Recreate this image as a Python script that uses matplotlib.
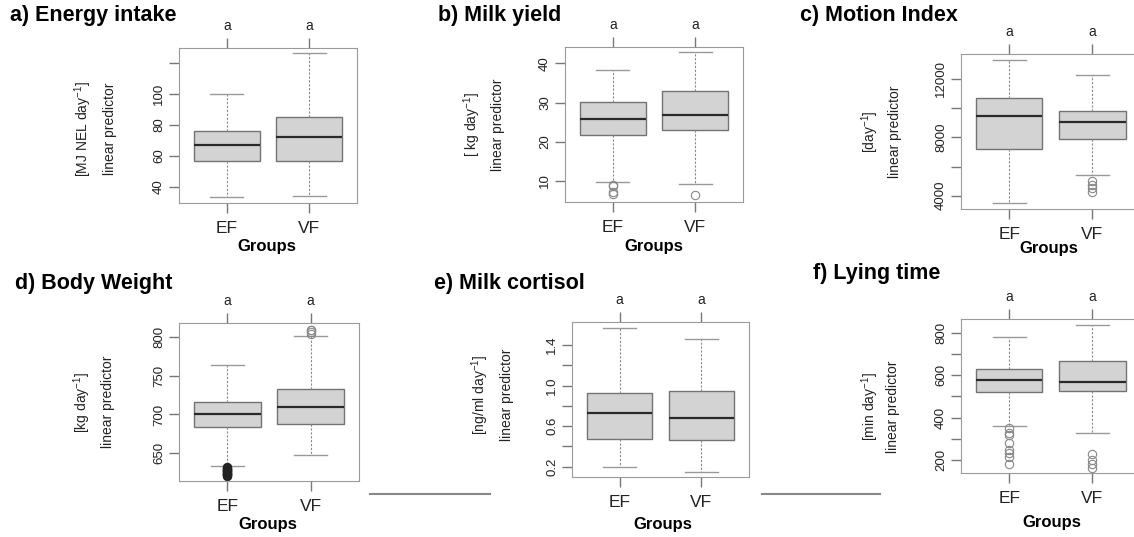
import matplotlib.pyplot as plt
from matplotlib.lines import Line2D

plt.rcParams['font.family'] = ['Liberation Sans', 'DejaVu Sans']
plt.rcParams['mathtext.fontset'] = 'custom'
plt.rcParams['mathtext.rm'] = 'Liberation Sans'
plt.rcParams['mathtext.it'] = 'Liberation Sans:italic'
plt.rcParams['mathtext.bf'] = 'Liberation Sans:bold'

W, H = 1134, 537

groups = ['EF', 'VF']
letters = ['a', 'a']

# lower whisker, Q1, median, Q3, upper whisker
energy_ef = [33.4, 57.0, 66.9, 76.1, 100.2]
energy_vf = [34.2, 57.0, 72.4, 85.4, 126.3]
energy_ticks = [40, 60, 80, 100, 120]
energy_labels = ['40', '60', '80', '100', '']

milk_ef = [9.6, 21.8, 25.7, 30.2, 38.3]
milk_vf = [9.2, 22.9, 26.9, 33.0, 42.8]
milk_out_ef = [9.0, 8.6, 7.2, 6.6]
milk_out_vf = [6.4]
milk_ticks = [10, 20, 30, 40]
milk_labels = ['10', '20', '30', '40']

motion_ef = [3500, 7200, 9450, 10720, 13290]
motion_vf = [5450, 7880, 9030, 9800, 12280]
motion_out_vf = [5000, 4750, 4500, 4250]
motion_ticks = [4000, 6000, 8000, 10000, 12000]
motion_labels = ['4000', '', '8000', '', '12000']

weight_ef = [634, 683.5, 700, 715.5, 763.5]
weight_vf = [648, 688, 709, 733, 801]
weight_out_ef = [632, 631, 630, 629, 628, 627, 626, 625, 624, 623, 622, 621]
weight_out_vf = [804, 806, 808, 809]
weight_ticks = [650, 700, 750, 800]
weight_labels = ['650', '700', '750', '800']

cortisol_ef = [0.20, 0.47, 0.725, 0.93, 1.565]
cortisol_vf = [0.15, 0.465, 0.68, 0.945, 1.455]
cortisol_ticks = [0.2, 0.4, 0.6, 0.8, 1.0, 1.2, 1.4]
cortisol_labels = ['0.2', '', '0.6', '', '1.0', '', '1.4']

lying_ef = [360, 522, 578, 628, 781]
lying_vf = [327, 523, 568, 668, 836]
lying_out_ef = [352, 328, 318, 282, 245, 232, 216, 181]
lying_out_vf = [226, 200, 182, 162]
lying_ticks = [200, 300, 400, 500, 600, 700, 800]
lying_labels = ['200', '', '400', '', '600', '', '800']

fig = plt.figure(figsize=(W / 100, H / 100), dpi=100)


def px(x, y):
    return x / W, 1 - y / H


def panel(box, title, title_xy, ylab, ylab_x, ylab_y, ef, vf, out_ef, out_vf,
          ticks, labels, ylim, groups_xy, open_right=False, dark_ef=False):
    x0, y0, x1, y1 = box
    ax = fig.add_axes([x0 / W, 1 - y1 / H, (x1 - x0) / W, (y1 - y0) / H])
    stats = []
    for s, o in [(ef, out_ef), (vf, out_vf)]:
        stats.append(dict(whislo=s[0], q1=s[1], med=s[2], q3=s[3], whishi=s[4], fliers=o))
    res = ax.bxp(stats, positions=[1, 2], widths=0.8, patch_artist=True,
                 boxprops=dict(facecolor='#d3d3d3', edgecolor='#737373', lw=1),
                 medianprops=dict(color='#2a2a2a', lw=1.6),
                 whiskerprops=dict(color='#8a8a8a', lw=0.8, ls=(0, (2, 1.5))),
                 capprops=dict(color='#999999', lw=1),
                 flierprops=dict(marker='o', mfc='none', mec='#888888', ms=6, mew=0.8))
    if dark_ef:
        res['fliers'][0].set_markeredgecolor('#222222')
        res['fliers'][0].set_markerfacecolor('#222222')
    ax.set_ylim(*ylim)
    ax.set_xlim(0.42, 2.49 if open_right else 2.58)
    for sp in ax.spines.values():
        sp.set_color('#9a9a9a')
    if open_right:
        ax.spines['right'].set_visible(False)
    ax.set_xticks([1, 2], groups, fontsize=12.5)
    ax.set_yticks(ticks, labels, rotation=90, va='center', fontsize=9.5)
    ax.tick_params(axis='both', length=7, width=1, color='#777777', labelcolor='#222222')
    ax.tick_params(axis='x', pad=6)
    ax.tick_params(axis='y', pad=3)
    top = ax.secondary_xaxis('top')
    top.set_xticks([1, 2], letters, fontsize=10)
    top.tick_params(length=7, width=1, color='#777777', labelcolor='#222222', pad=4)
    top.spines['top'].set_visible(False)

    fig.text(*px(*title_xy), title, fontsize=15.5, fontweight='bold', ha='left', va='center')
    fig.text(*px(ylab_x[0], ylab_y), ylab, rotation=90, fontsize=10, ha='center', va='center',
             color='#222222')
    fig.text(*px(ylab_x[1], ylab_y), 'linear predictor', rotation=90, fontsize=10,
             ha='center', va='center', color='#222222')
    fig.text(*px(*groups_xy), 'Groups', fontsize=12, fontweight='bold', ha='center', va='center')
    return ax


panel((179, 48, 357, 203), 'a) Energy intake', (10, 15), r'[MJ NEL day$^{-1}$]', (83, 110), 129,
      energy_ef, energy_vf, [], [], energy_ticks, energy_labels, (29.7, 129.7), (267, 247))
panel((565, 47, 743, 202), 'b) Milk yield', (438, 15), r'[ kg day$^{-1}$]', (472, 498), 125,
      milk_ef, milk_vf, milk_out_ef, milk_out_vf, milk_ticks, milk_labels, (4.6, 44.2), (654, 246))
panel((961, 54, 1133, 209), 'c) Motion Index', (800, 15), r'[day$^{-1}$]', (870, 895), 132,
      motion_ef, motion_vf, [], motion_out_vf, motion_ticks, motion_labels, (3086, 13714),
      (1049, 249), open_right=True)
panel((179, 323, 359, 481), 'd) Body Weight', (15, 283), r'[kg day$^{-1}$]', (82, 108), 402,
      weight_ef, weight_vf, weight_out_ef, weight_out_vf, weight_ticks, weight_labels,
      (614.4, 817.6), (268, 525), dark_ef=True)
panel((572, 322, 749, 477), 'e) Milk cortisol', (434, 283), r'[ng/ml day$^{-1}$]', (480, 507), 395,
      cortisol_ef, cortisol_vf, [], [], cortisol_ticks, cortisol_labels, (0.098, 1.627), (663, 525))
panel((961, 319, 1133, 473), 'f) Lying time', (813, 273), r'[min day$^{-1}$]', (870, 893), 407,
      lying_ef, lying_vf, lying_out_ef, lying_out_vf, lying_ticks, lying_labels, (138.8, 864.5),
      (1052, 522), open_right=True)

# stray separator lines from the original layout
for xa, xb in [(370, 490), (762, 880)]:
    fig.add_artist(Line2D([xa / W, xb / W], [1 - 494 / H, 1 - 494 / H],
                          color='#888888', lw=1.5, transform=fig.transFigure))

fig.savefig('out.png', dpi=100)
